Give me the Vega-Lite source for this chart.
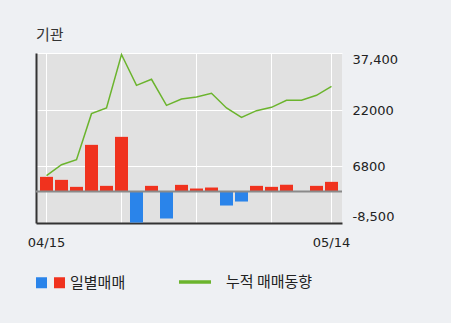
{
  "$schema": "https://vega.github.io/schema/vega-lite/v6.json",
  "width": 306,
  "height": 170,
  "autosize": {"type": "none"},
  "padding": {"left": 36, "top": 53, "right": 109, "bottom": 100},
  "background": "#eef0f3",
  "view": {"fill": "#e1e1e1", "stroke": null},
  "config": {"font": "DejaVu Sans"},
  "title": {"text": "기관", "anchor": "start", "frame": "group", "font": "Noto Sans CJK KR", "fontSize": 15, "fontWeight": "normal", "color": "#333333", "offset": 8},
  "data": {
    "values": [
      {"date": "04/15", "value": 3960, "cum": 4280, "side": "매수"},
      {"date": "04/16", "value": 3150, "cum": 7250, "side": "매수"},
      {"date": "04/17", "value": 1260, "cum": 8600, "side": "매수"},
      {"date": "04/18", "value": 12600, "cum": 21020, "side": "매수"},
      {"date": "04/19", "value": 1530, "cum": 22550, "side": "매수"},
      {"date": "04/22", "value": 14760, "cum": 37000, "side": "매수"},
      {"date": "04/23", "value": -8370, "cum": 28670, "side": "매도"},
      {"date": "04/24", "value": 1530, "cum": 30300, "side": "매수"},
      {"date": "04/25", "value": -7290, "cum": 23270, "side": "매도"},
      {"date": "04/26", "value": 1800, "cum": 24980, "side": "매수"},
      {"date": "04/29", "value": 810, "cum": 25520, "side": "매수"},
      {"date": "04/30", "value": 1080, "cum": 26510, "side": "매수"},
      {"date": "05/02", "value": -3780, "cum": 22550, "side": "매도"},
      {"date": "05/03", "value": -2700, "cum": 20030, "side": "매도"},
      {"date": "05/07", "value": 1530, "cum": 21830, "side": "매수"},
      {"date": "05/08", "value": 1260, "cum": 22730, "side": "매수"},
      {"date": "05/09", "value": 1800, "cum": 24620, "side": "매수"},
      {"date": "05/10", "value": 0, "cum": 24620, "side": "매수"},
      {"date": "05/13", "value": 1530, "cum": 25970, "side": "매수"},
      {"date": "05/14", "value": 2610, "cum": 28400, "side": "매수"}
    ]
  },
  "layer": [
    {
      "mark": {"type": "bar"},
      "encoding": {
        "x": {
          "field": "date", "type": "ordinal", "sort": null,
          "scale": {"paddingInner": 0.1333, "paddingOuter": 0.267},
          "axis": {
            "values": ["04/15", "04/22", "04/29", "05/08", "05/14"],
            "labelExpr": "datum.value == '04/15' || datum.value == '05/14' ? datum.value : ''",
            "bandPosition": 0.5,
            "grid": true, "gridColor": "#ffffff", "gridWidth": 1, "gridOpacity": 1,
            "domain": true, "domainColor": "#333333", "domainWidth": 2,
            "ticks": false, "labelAngle": 0, "labelPadding": 13,
            "labelFont": "DejaVu Sans", "labelFontSize": 13, "labelColor": "#222222",
            "labelDx": 3, "title": null
          }
        },
        "y": {
          "field": "value", "type": "quantitative",
          "scale": {"domain": [-8500, 37400], "nice": false, "zero": false},
          "axis": {
            "orient": "right",
            "values": [-8500, 6800, 22000, 37400],
            "labelExpr": "datum.value == 37400 ? '37,400' : datum.value == -8500 ? '-8,500' : format(datum.value, 'd')",
            "labelFlush": true,
            "grid": true, "gridColor": "#ffffff", "gridWidth": 1, "gridOpacity": 1,
            "domain": false, "ticks": false, "labelPadding": 10,
            "labelFont": "DejaVu Sans", "labelFontSize": 13, "labelColor": "#222222",
            "title": null
          }
        },
        "color": {
          "field": "side", "type": "nominal",
          "scale": {"domain": ["매도", "매수"], "range": ["#2a84ea", "#f0321e"]},
          "legend": {
            "orient": "none", "legendX": -2, "legendY": 222, "direction": "horizontal",
            "title": null, "symbolType": "square", "symbolSize": 121, "symbolStrokeWidth": 0,
            "labelExpr": "datum.label == '매수' ? '\u00a0일별매매' : ''",
            "labelFont": "Noto Sans CJK KR", "labelFontSize": 15, "labelColor": "#222222",
            "labelOffset": 3, "columnPadding": 0
          }
        }
      }
    },
    {
      "data": {"values": [{}]},
      "mark": {"type": "rule", "color": "#8a8a8a", "strokeWidth": 2},
      "encoding": {"y": {"datum": 0, "type": "quantitative", "axis": null}}
    },
    {
      "mark": {"type": "line", "strokeWidth": 1.5},
      "encoding": {
        "x": {"field": "date", "type": "ordinal", "sort": null},
        "y": {
          "field": "cum", "type": "quantitative",
          "axis": {"orient": "left", "labels": false, "ticks": false, "grid": false, "domain": true, "domainColor": "#333333", "domainWidth": 2, "title": null}
        },
        "stroke": {
          "datum": "누적 매매동향",
          "scale": {"range": ["#6bb42d"]},
          "legend": {
            "orient": "none", "legendX": 141, "legendY": 211, "direction": "horizontal", "title": null,
            "symbolType": "stroke", "symbolSize": 1024, "symbolStrokeWidth": 3.5,
            "labelFont": "Noto Sans CJK KR", "labelFontSize": 15, "labelColor": "#222222",
            "labelOffset": 13
          }
        }
      }
    }
  ],
  "resolve": {"axis": {"y": "independent"}}
}
